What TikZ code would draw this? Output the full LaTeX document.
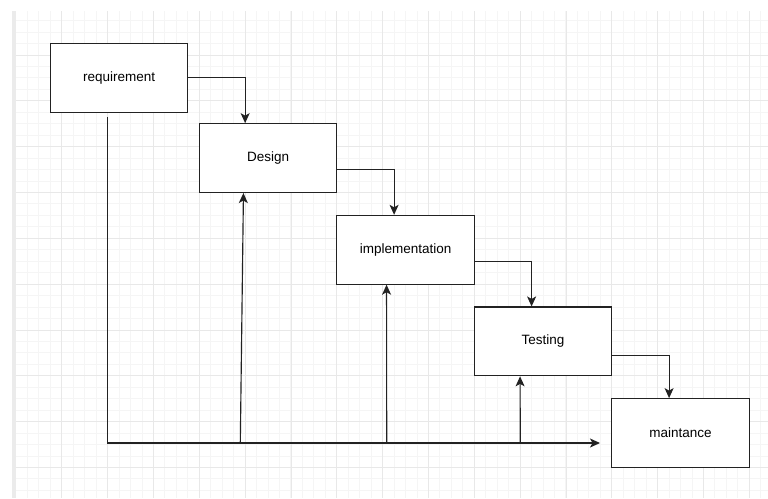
\documentclass[tikz,border=0pt]{standalone}
\usepackage{fontspec}
\setmainfont{Liberation Sans}
\usetikzlibrary{positioning,arrows.meta}

\definecolor{minorline}{HTML}{F5F5F5}
\definecolor{majorline}{HTML}{E8E8E8}
\definecolor{pageedge}{HTML}{EBEBEB}
\definecolor{inkline}{HTML}{222222}

\tikzset{
  stage/.style={draw=inkline, line width=1.15pt, fill=white, minimum width=137.5pt,
    minimum height=68.75pt, inner sep=0pt, font=\fontsize{13.5}{16}\selectfont},
  flow/.style={draw=inkline, line width=1.15pt, -{Stealth[length=10pt, width=9pt, inset=2.5pt]}},
}

\begin{document}
\begin{tikzpicture}[x=1pt, y=-1pt]
    \useasboundingbox (0,0) rectangle (768,498);
    % background grid
    \fill[pageedge] (12,11) rectangle (16,498);
    \foreach \i in {1,...,65} {
      \draw[minorline, line width=1pt] ({16+\i*11.458},11) -- ({16+\i*11.458},498);
    }
    \foreach \j in {1,...,42} {
      \draw[minorline, line width=1pt] (16,{9.2+\j*11.458}) -- (768,{9.2+\j*11.458});
    }
    \foreach \i in {1,...,16} {
      \draw[majorline, line width=1pt] ({16+\i*45.833},11) -- ({16+\i*45.833},498);
    }
    \foreach \j in {1,...,10} {
      \draw[majorline, line width=1pt] (16,{9.2+\j*45.833}) -- (768,{9.2+\j*45.833});
    }

    % phases
    \node[stage] (req) at (119.1,77.9) {requirement};
    \node[stage, below right=10.3pt and 10.3pt of req.south east, anchor=north west] (design) {Design};
    \node[stage, below right=21.75pt and -1.15pt of design.south east, anchor=north west] (impl) {implementation};
    \node[stage, below right=21.75pt and -1.15pt of impl.south east, anchor=north west] (test) {Testing};
    \node[stage, below right=21.75pt and -1.15pt of test.south east, anchor=north west] (maint) {maintance};

    % cascade
    \draw[flow] (req.east) -| ([xshift=-22.9pt]design.north);
    \draw[flow] ([yshift=-11.46pt]design.east) -| ([xshift=-11.46pt]impl.north);
    \draw[flow] ([yshift=-11.46pt]impl.east) -| ([xshift=-11.46pt]test.north);
    \draw[flow] ([yshift=-14pt]test.east) -| ([xshift=-11.46pt]maint.north);

    % feedback line along the bottom
    \coordinate (busend) at (600,443);
    \coordinate (tapdesign) at (240.3,443);
    \coordinate (tapimpl) at (386.7,443);
    \coordinate (taptest) at (520.3,443);
    \draw[flow] ([xshift=-11.46pt,yshift=-4pt]req.south) |- (busend);
    \draw[flow] (tapdesign) -- ([xshift=-24.6pt]design.south);
    \draw[flow] (tapimpl) -- ([xshift=-19pt]impl.south);
    \draw[flow] (taptest) -- ([xshift=-23pt]test.south);
  \end{tikzpicture}
\end{document}
